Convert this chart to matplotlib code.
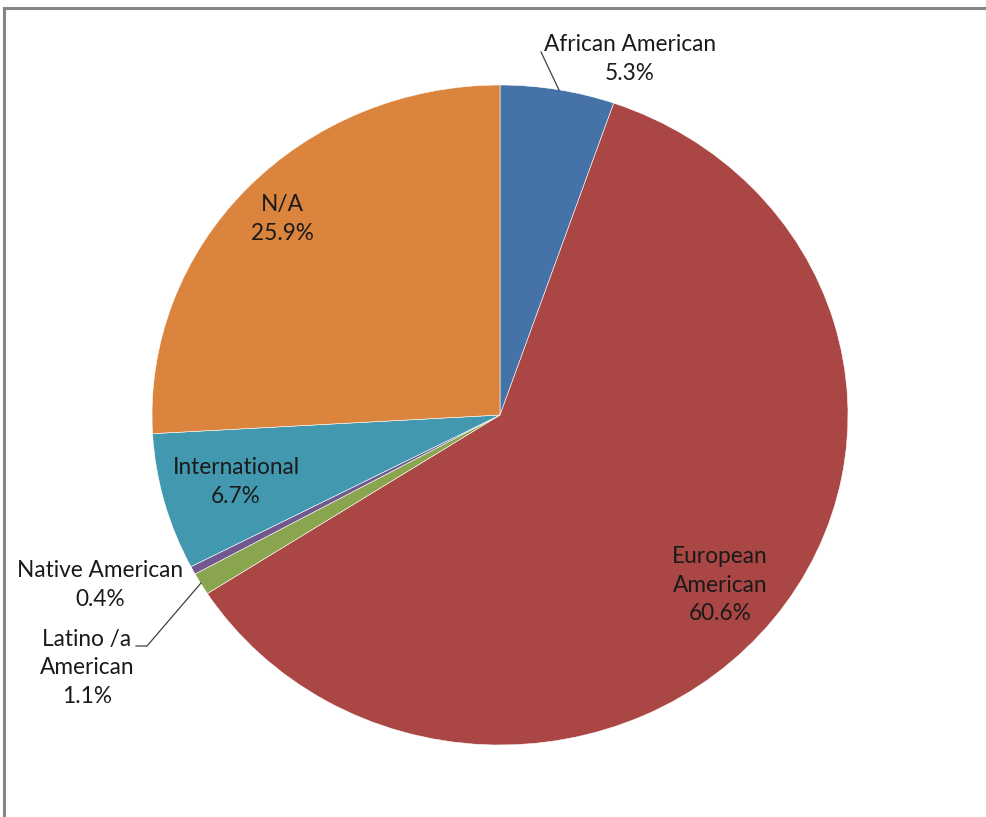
import matplotlib.pyplot as plt
from matplotlib.lines import Line2D

labels = ['African American', 'European\nAmerican', 'Latino /a\nAmerican',
          'Native American', 'International', 'N/A']
shares = [5.3, 60.6, 1.1, 0.4, 6.7, 25.9]
colors = ['#4572A7', '#AA4643', '#89A54E', '#71588F', '#4198AF', '#DB843D']

W, H = 987, 817
cx, cy, rx, ry = 500, 415, 348, 330


def px(x, y):
    # pixel position -> data coords of the unit pie
    return (x - cx) / rx, (cy - y) / ry


fig = plt.figure(figsize=(W / 100, H / 100), dpi=100)
ax = fig.add_axes([0, 0, 1, 1])
ax.axis('off')

ax.pie(shares, colors=colors, startangle=90, counterclock=False,
       radius=1, center=(0, 0), normalize=True,
       wedgeprops=dict(edgecolor='white', linewidth=0.4))
ax.set_xlim(px(0, 0)[0], px(W, 0)[0])
ax.set_ylim(px(0, H)[1], px(0, 0)[1])
ax.set_aspect('auto')

font = dict(family='Lato', fontsize=16.3, color='#1a1a1a', ha='center',
            va='center', linespacing=1.42)

# label block centres (pixels)
spots = [(630, 59), (720, 585), (87, 668), (100, 585), (236, 482), (282, 219)]
for lab, val, (x, y) in zip(labels, shares, spots):
    ax.text(*px(x, y), f'{lab}\n{val}%', **font)

# leader lines
ln = dict(color='#404040', linewidth=0.9)
ax.plot(*zip(px(541, 52), px(559, 90)), **ln)
ax.plot(*zip(px(136, 646), px(147, 646), px(201, 583)), **ln)

# chart area border (top and left only, the rest runs off the image)
edge = dict(color='#868686', linewidth=2.2, transform=fig.transFigure)
fig.lines.append(Line2D([4 / W, 1], [1 - 8 / H, 1 - 8 / H], **edge))
fig.lines.append(Line2D([4 / W, 4 / W], [0, 1 - 8 / H], **edge))

fig.savefig('out.png', dpi=100)
